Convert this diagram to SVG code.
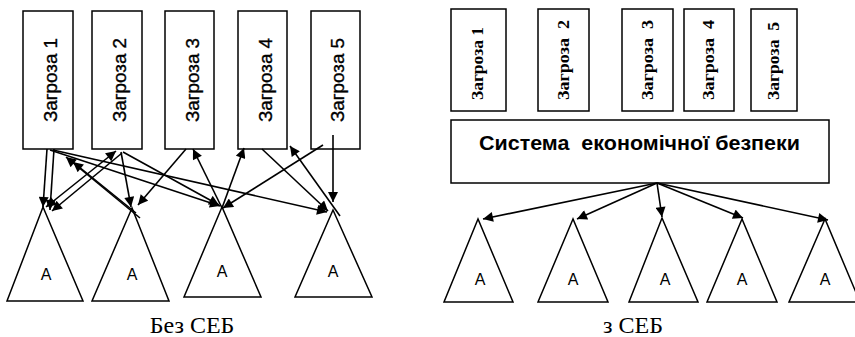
<svg xmlns="http://www.w3.org/2000/svg" width="855" height="337" viewBox="0 0 855 337">
<style>
.box{fill:#fff;stroke:#000;stroke-width:1.5}
.tri{fill:#fff;stroke:#000;stroke-width:1.5}
.ln{stroke:#000;stroke-width:1.6;fill:none;marker-end:url(#ah)}
.lt{font-family:"Liberation Sans",Arial,sans-serif;font-size:19px;fill:#000;stroke:#000;stroke-width:0.35}
.rt{font-family:"Liberation Serif","Times New Roman",serif;font-size:17px;font-weight:bold;fill:#000;white-space:pre}
.a{font-family:"Liberation Sans",Arial,sans-serif;font-size:16px;fill:#000;text-anchor:middle}
.cap{font-family:"Liberation Serif","Times New Roman",serif;font-size:24px;fill:#000;text-anchor:middle}
.sys{font-family:"Liberation Sans",Arial,sans-serif;font-size:20px;font-weight:bold;fill:#000;white-space:pre}
</style>
<defs>
<marker id="ah" viewBox="0 0 10 10" refX="10" refY="5" markerWidth="12" markerHeight="10" markerUnits="userSpaceOnUse" orient="auto-start-reverse">
<path d="M0,0 L10,5 L0,10 z" fill="#000"/>
</marker>
</defs>
<rect width="855" height="337" fill="#fff"/>

<!-- Left: without SEB -->
<g id="l-threat1"><rect class="box" x="23" y="11" width="50" height="138"/><text class="lt" transform="translate(50,80) rotate(-90)" text-anchor="middle" dominant-baseline="central" textLength="84" lengthAdjust="spacingAndGlyphs">Загроза 1</text></g>
<g id="l-threat2"><rect class="box" x="92" y="11" width="50" height="138"/><text class="lt" transform="translate(119,80) rotate(-90)" text-anchor="middle" dominant-baseline="central" textLength="84" lengthAdjust="spacingAndGlyphs">Загроза 2</text></g>
<g id="l-threat3"><rect class="box" x="165" y="11" width="49" height="138"/><text class="lt" transform="translate(192,80) rotate(-90)" text-anchor="middle" dominant-baseline="central" textLength="84" lengthAdjust="spacingAndGlyphs">Загроза 3</text></g>
<g id="l-threat4"><rect class="box" x="238" y="11" width="49" height="138"/><text class="lt" transform="translate(265,80) rotate(-90)" text-anchor="middle" dominant-baseline="central" textLength="84" lengthAdjust="spacingAndGlyphs">Загроза 4</text></g>
<g id="l-threat5"><rect class="box" x="311" y="11" width="49" height="138"/><text class="lt" transform="translate(337,80) rotate(-90)" text-anchor="middle" dominant-baseline="central" textLength="84" lengthAdjust="spacingAndGlyphs">Загроза 5</text></g>

<g id="l-a1"><polygon class="tri" points="43,207 7,301 83,301"/><text class="a" x="46" y="280">A</text></g>
<g id="l-a2"><polygon class="tri" points="132,208 92,301 169,301"/><text class="a" x="132" y="280">A</text></g>
<g id="l-a3"><polygon class="tri" points="222,207 184,297 261,297"/><text class="a" x="222" y="277">A</text></g>
<g id="l-a4"><polygon class="tri" points="333,210 295,297 372,297"/><text class="a" x="333" y="277">A</text></g>

<g id="l-connectors">
<line class="ln" x1="47" y1="149" x2="43" y2="207"/>
<line class="ln" x1="54" y1="149" x2="50" y2="210"/>
<line class="ln" x1="116" y1="151" x2="46" y2="207" style="marker-start:url(#ah)"/>
<line class="ln" x1="122" y1="153" x2="52" y2="211"/>
<line class="ln" x1="140" y1="218" x2="66" y2="157"/>
<line class="ln" x1="136" y1="213" x2="73" y2="162"/>
<line class="ln" x1="50" y1="150" x2="220" y2="206"/>
<line class="ln" x1="53" y1="150" x2="327" y2="212"/>
<line class="ln" x1="121" y1="152" x2="131" y2="207"/>
<line class="ln" x1="123" y1="152" x2="219" y2="205"/>
<line class="ln" x1="186" y1="149" x2="138" y2="205"/>
<line class="ln" x1="222" y1="208" x2="193" y2="149"/>
<line class="ln" x1="222" y1="208" x2="244" y2="148"/>
<line class="ln" x1="262" y1="149" x2="328" y2="211"/>
<line class="ln" x1="323" y1="145" x2="223" y2="208"/>
<line class="ln" x1="340" y1="216" x2="290" y2="146"/>
<line class="ln" x1="333" y1="135" x2="333" y2="202"/>
</g>
<text class="cap" x="192" y="333">Без СЕБ</text>

<!-- Right: with SEB -->
<g id="r-threat1"><rect class="box" x="451" y="9" width="55" height="102"/><text class="rt" transform="translate(477,63.5) rotate(-90)" text-anchor="middle" dominant-baseline="central" textLength="73" lengthAdjust="spacingAndGlyphs">Загроза 1</text></g>
<g id="r-threat2"><rect class="box" x="538" y="9" width="51" height="102"/><text class="rt" transform="translate(563,60) rotate(-90)" text-anchor="middle" dominant-baseline="central" textLength="80" lengthAdjust="spacingAndGlyphs">Загроза  2</text></g>
<g id="r-threat3"><rect class="box" x="622" y="9" width="51" height="102"/><text class="rt" transform="translate(647,60) rotate(-90)" text-anchor="middle" dominant-baseline="central" textLength="80" lengthAdjust="spacingAndGlyphs">Загроза  3</text></g>
<g id="r-threat4"><rect class="box" x="684" y="9" width="50" height="102"/><text class="rt" transform="translate(708.5,60) rotate(-90)" text-anchor="middle" dominant-baseline="central" textLength="80" lengthAdjust="spacingAndGlyphs">Загроза  4</text></g>
<g id="r-threat5"><rect class="box" x="751" y="9" width="46" height="102"/><text class="rt" transform="translate(773.5,61) rotate(-90)" text-anchor="middle" dominant-baseline="central" textLength="78" lengthAdjust="spacingAndGlyphs">Загроза  5</text></g>

<g id="r-system"><rect class="box" x="451" y="120" width="378" height="63"/><text class="sys" x="479" y="150" textLength="321" lengthAdjust="spacingAndGlyphs">Система  економічної безпеки</text></g>

<g id="r-a1"><polygon class="tri" points="478,219 444,302 513,302"/><text class="a" x="480" y="285">A</text></g>
<g id="r-a2"><polygon class="tri" points="573,219 538,302 608,302"/><text class="a" x="573" y="285">A</text></g>
<g id="r-a3"><polygon class="tri" points="662,218 629,302 698,302"/><text class="a" x="665" y="285">A</text></g>
<g id="r-a4"><polygon class="tri" points="742,219 707,302 777,302"/><text class="a" x="742" y="285">A</text></g>
<g id="r-a5"><polygon class="tri" points="825,219 789,302 860,302"/><text class="a" x="825" y="285">A</text></g>

<g id="r-connectors">
<line class="ln" x1="657" y1="183" x2="483" y2="219"/>
<line class="ln" x1="657" y1="183" x2="577" y2="219"/>
<line class="ln" x1="657" y1="183" x2="662" y2="217"/>
<line class="ln" x1="657" y1="183" x2="743" y2="218"/>
<line class="ln" x1="657" y1="183" x2="828" y2="220"/>
</g>
<text class="cap" x="633" y="333">з СЕБ</text>
</svg>
